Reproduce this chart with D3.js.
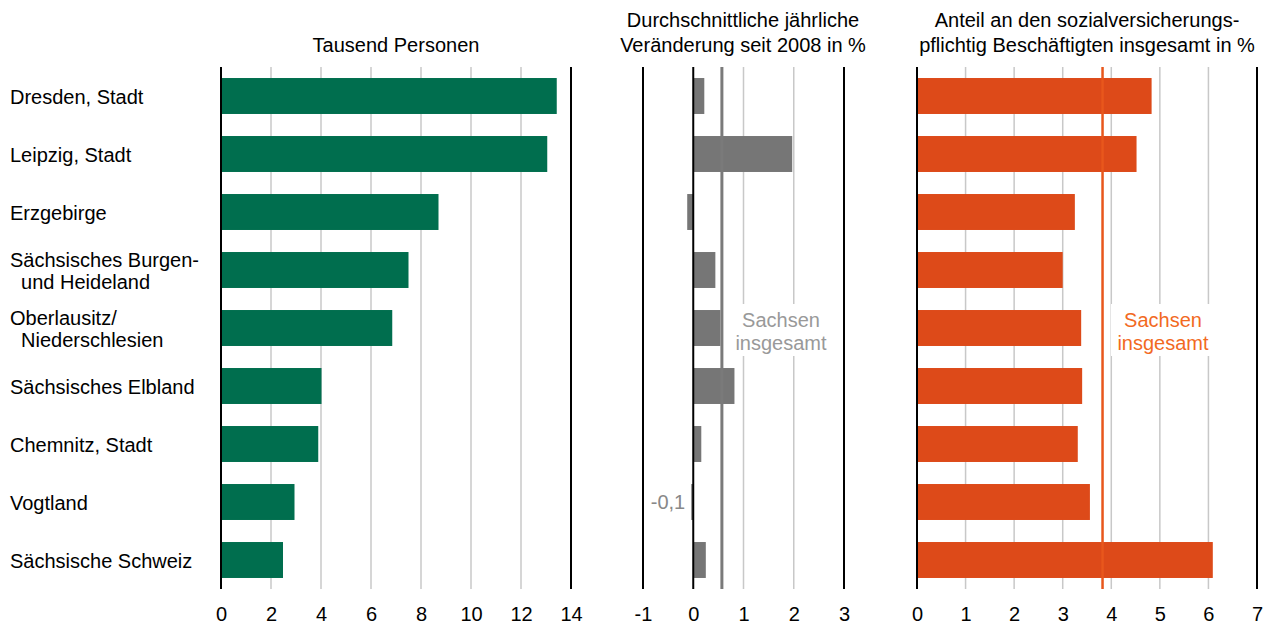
<!DOCTYPE html>
<html><head><meta charset="utf-8">
<script src="https://cdn.jsdelivr.net/npm/d3@7"></script>
<style>body{margin:0;background:#fff}svg{font-family:"Liberation Sans",Arial,sans-serif}</style>
</head><body><svg id="c" width="1267" height="624"></svg>
<script>
const categories = [["Dresden, Stadt"],["Leipzig, Stadt"],["Erzgebirge"],["Sächsisches Burgen-","  und Heideland"],["Oberlausitz/","  Niederschlesien"],["Sächsisches Elbland"],["Chemnitz, Stadt"],["Vogtland"],["Sächsische Schweiz"]];
const personen = [13.43, 13.05, 8.7, 7.5, 6.85, 4.02, 3.89, 2.94, 2.48];
const veraenderung = [0.22, 1.97, -0.12, 0.44, 0.54, 0.82, 0.16, -0.04, 0.25];
const veraenderungSachsen = 0.57;
const anteil = [4.83, 4.52, 3.25, 3.0, 3.38, 3.40, 3.31, 3.56, 6.09];
const anteilSachsen = 3.82;
const ticks1 = [0,2,4,6,8,10,12,14];
const ticks2 = [-1,0,1,2,3];
const ticks3 = [0,1,2,3,4,5,6,7];
const titles = [["Tausend Personen"],["Durchschnittliche jährliche","Veränderung seit 2008 in %"],["Anteil an den sozialversicherungs-","pflichtig Beschäftigten insgesamt in %"]];
const refLabel = ["Sachsen","insgesamt"];
const annotations = [{row:7, text:"-0,1"}];

const svg = d3.select("#c");
const idx = d3.range(categories.length);
const y = d3.scaleBand().domain(idx).range([67,589]).paddingInner(0.38).paddingOuter(0.19);
const FS = 20;

// category labels
idx.forEach(i=>{
  const lines = categories[i];
  const cy = y(i)+y.bandwidth()/2;
  const t = svg.append("text").attr("x",10).attr("font-size",FS).attr("fill","#000").attr("xml:space","preserve");
  lines.forEach((l,j)=>{
    t.append("tspan").attr("x",10).attr("y",cy + (j-(lines.length-1)/2)*22 + 8).text(l);
  });
});

function panel(opts){
  const x = d3.scaleLinear().domain(opts.domain).range(opts.range);
  const g = svg.append("g");
  g.selectAll(".grid").data(opts.ticks.filter(t=>t!==opts.domain[0]&&t!==opts.domain[1]&&t!==0)).enter()
    .append("line").attr("x1",d=>x(d)).attr("x2",d=>x(d)).attr("y1",67).attr("y2",589)
    .attr("stroke","#c8c8c8").attr("stroke-width",1.5);
  g.selectAll(".bar").data(opts.values).enter().append("rect")
    .attr("x",(d)=>x(Math.min(0,d))).attr("width",d=>Math.abs(x(d)-x(0)))
    .attr("y",(d,i)=>y(i)).attr("height",y.bandwidth()).attr("fill",opts.color);
  const blacks = [opts.domain[0],opts.domain[1]];
  if (opts.domain[0] < 0) blacks.push(0);
  g.selectAll(".ax").data(blacks).enter().append("line")
    .attr("x1",d=>x(d)).attr("x2",d=>x(d)).attr("y1",67).attr("y2",589)
    .attr("stroke","#000").attr("stroke-width",2);
  const ax = d3.axisBottom(x).tickValues(opts.ticks).tickSize(0).tickPadding(0).tickFormat(d=>String(d));
  const ag = g.append("g").attr("transform","translate(0,607)").call(ax);
  ag.select(".domain").remove();
  ag.selectAll("text").attr("font-size",FS).attr("font-family","Liberation Sans, Arial, sans-serif").attr("fill","#000").attr("dy","0.71em");
  if (opts.ref !== undefined){
    const rx = x(opts.ref);
    const lx = opts.labelX;
    g.append("rect").attr("x",lx-52).attr("y",304).attr("width",104).attr("height",52).attr("fill","#fff");
    g.append("line").attr("x1",rx).attr("x2",rx).attr("y1",67).attr("y2",589)
      .attr("stroke",opts.refColor).attr("stroke-width",opts.refWidth);
    const t = g.append("text").attr("text-anchor","middle").attr("font-size",FS).attr("fill",opts.labelColor);
    refLabel.forEach((l,j)=>t.append("tspan").attr("x",lx).attr("y",327+j*23).text(l));
  }
  const tl = opts.title;
  const tt = svg.append("text").attr("text-anchor","middle").attr("font-size",FS).attr("fill","#000");
  tl.forEach((l,j)=>tt.append("tspan").attr("x",opts.titleX).attr("y",52 - (tl.length-1-j)*25).text(l));
  return x;
}

panel({domain:[0,14], range:[221,571], ticks:ticks1, values:personen, color:"#006e4e", title:titles[0], titleX:396});
const x2 = panel({domain:[-1,3], range:[643,844], ticks:ticks2, values:veraenderung, color:"#767676", title:titles[1], titleX:743,
  ref:veraenderungSachsen, refColor:"#7a7a7a", refWidth:3, labelX:781, labelColor:"#999999"});
panel({domain:[0,7], range:[917,1257], ticks:ticks3, values:anteil, color:"#dd4a19", title:titles[2], titleX:1087,
  ref:anteilSachsen, refColor:"#e8571c", refWidth:2.5, labelX:1163, labelColor:"#f26a1f"});

annotations.forEach(a=>{
  svg.append("text").attr("x",x2(veraenderung[a.row])-6).attr("y",y(a.row)+y.bandwidth()/2+7)
    .attr("text-anchor","end").attr("font-size",FS).attr("fill","#888").text(a.text);
});
</script></body></html>
